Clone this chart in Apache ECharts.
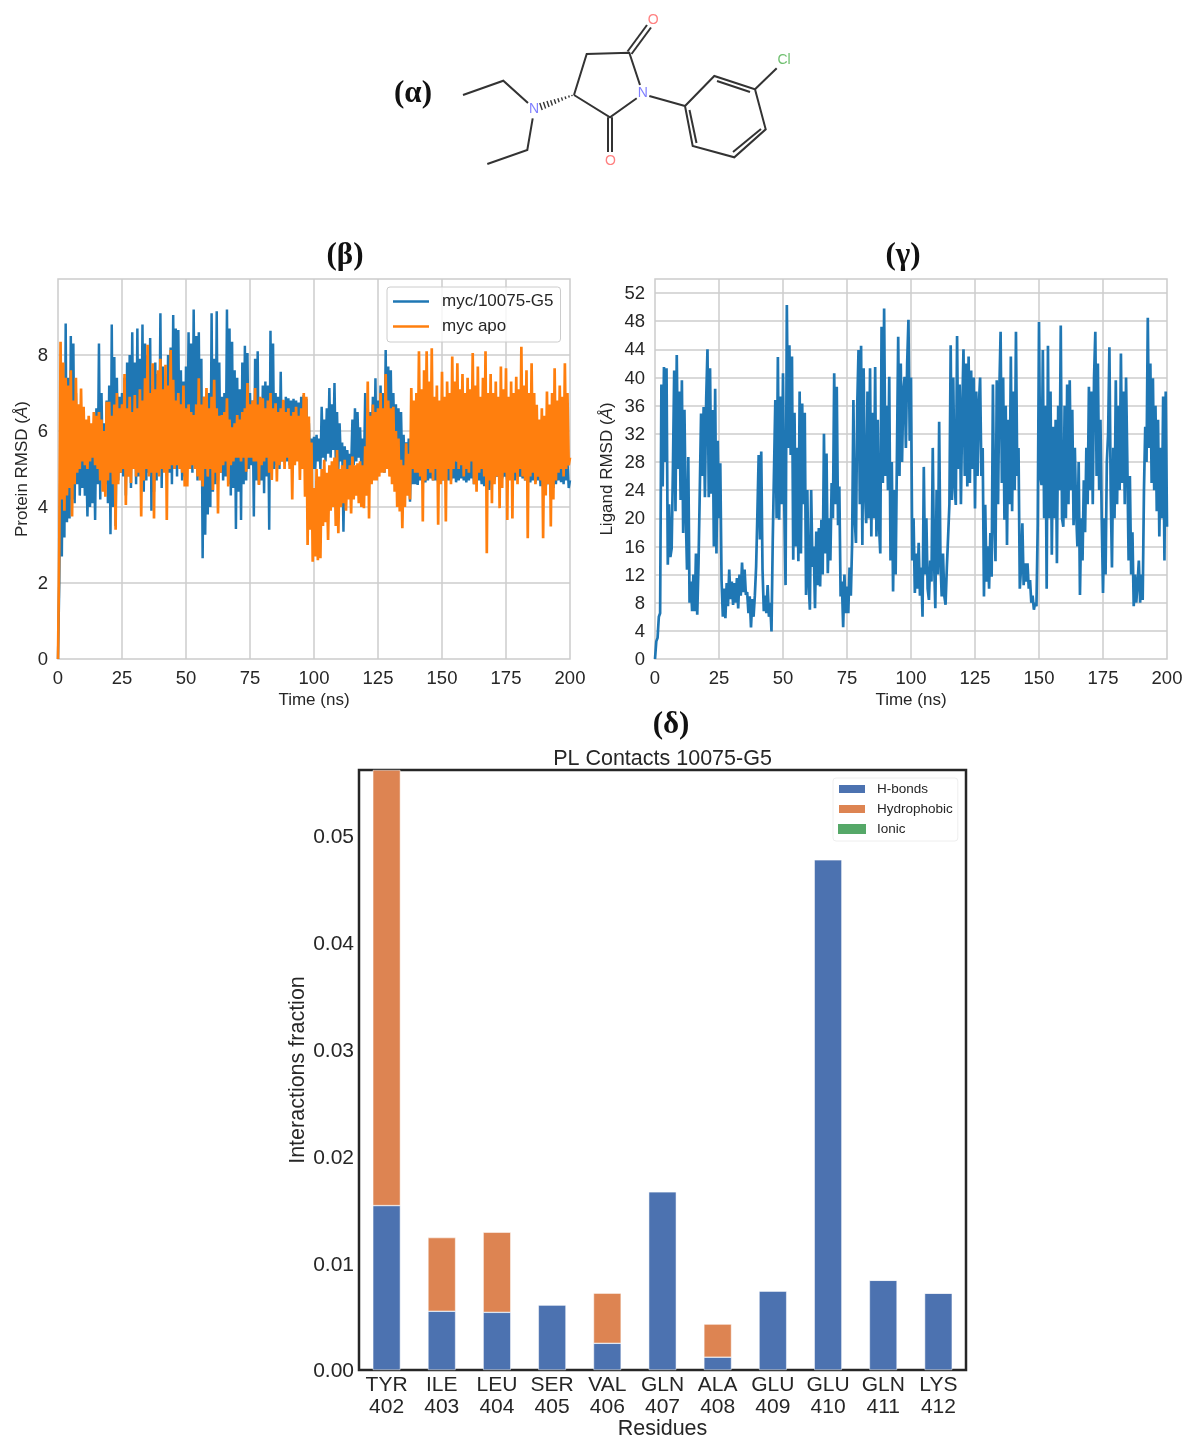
<!DOCTYPE html>
<html><head><meta charset="utf-8">
<style>html,body{margin:0;padding:0;background:#fff}#c{width:1186px;height:1438px}</style>
<script src="https://cdn.jsdelivr.net/npm/echarts@6/dist/echarts.min.js"></script>
</head><body><div id="c"></div>
<script>
const timeStepNs = 0.5;
const timeTicks = {min:0, max:200, interval:25};

const proteinLigand = [
0,2.0,5.6,2.7,7.2,3.2,8.83,3.6,7.4,3.7,
8.5,4.2,8.3,4.1,7.0,4.6,6.4,4.3,5.6,4.5,
5.9,4.3,5.4,3.75,5.5,4.0,5.7,4.1,5.9,3.66,
6.6,4.6,8.3,4.2,7.0,4.9,6.2,4.6,6.8,4.1,
7.2,3.28,8.8,4.0,7.95,3.5,7.4,4.7,6.9,4.9,
7.0,4.8,7.4,4.3,7.8,4.9,8.0,4.5,8.6,5.0,
7.8,4.6,8.7,4.8,7.9,5.1,8.8,4.4,8.3,4.7,
8.0,4.9,8.45,3.9,7.2,4.4,7.8,4.7,7.5,5.0,
9.1,4.5,7.7,5.0,7.3,4.8,8.0,4.9,8.2,4.6,
9.05,5.0,8.7,4.8,8.66,5.1,7.6,4.7,7.3,4.8,
7.7,5.2,8.6,5.0,8.3,4.9,9.2,5.2,8.5,4.7,
8.6,4.8,7.9,2.65,6.9,3.27,6.6,3.8,7.0,4.0,
9.1,4.4,7.9,4.6,9.15,4.7,7.8,4.9,6.9,4.7,
7.0,4.8,9.2,4.6,8.7,4.3,8.35,4.5,7.6,3.42,
7.4,4.4,7.1,3.66,7.8,4.6,8.24,4.7,8.05,5.0,
7.0,5.1,6.8,3.75,7.9,4.7,8.1,4.6,6.8,4.7,
7.2,4.36,7.3,4.8,7.2,3.4,8.64,4.9,8.3,5.0,
7.0,5.1,6.9,5.0,7.56,5.2,6.8,5.3,6.9,5.2,
6.86,5.1,6.8,5.3,6.85,5.2,6.8,5.4,6.75,5.3,
6.9,5.2,6.95,5.3,6.85,4.8,6.2,4.9,5.8,5.0,
5.85,5.0,5.9,5.2,5.8,5.0,6.64,5.3,6.3,5.2,
6.6,5.4,7.13,5.3,6.7,5.5,7.26,5.2,6.5,5.0,
6.2,5.2,5.7,3.35,5.6,4.8,5.5,4.9,5.4,5.0,
6.3,5.1,6.6,5.2,6.5,5.3,6.1,5.0,5.8,4.9,
7.0,5.0,6.6,5.1,6.5,5.0,6.9,5.0,7.39,4.8,
6.8,5.0,7.2,5.2,7.0,4.9,8.13,5.1,7.7,5.0,
7.6,5.2,7.0,5.3,6.7,5.1,6.6,5.2,6.5,4.9,
5.9,4.7,5.7,4.5,5.8,4.14,5.6,4.6,5.5,4.6,
5.3,4.58,5.2,4.7,5.0,4.6,5.1,4.65,5.2,4.7,
5.1,4.75,5.15,4.7,5.2,4.7,5.1,4.65,5.2,4.75,
5.0,4.7,5.0,4.75,5.1,4.7,5.05,4.7,5.2,4.75,
5.3,4.65,5.2,4.7,5.1,4.75,5.15,4.7,5.0,4.65,
5.2,4.7,5.6,4.75,5.3,4.6,5.1,4.7,5.0,4.7,
5.1,4.6,5.0,4.55,5.2,4.7,5.1,4.45,5.2,4.6,
5.25,4.7,5.0,4.8,5.1,4.7,5.0,4.75,5.1,4.8,
5.0,4.7,5.1,4.75,5.05,4.8,5.2,4.7,5.1,4.8,
5.15,4.8,5.3,4.75,5.2,4.7,5.35,4.7,5.1,4.65,
5.2,4.7,5.25,4.65,5.1,4.7,5.2,4.55,5.0,4.6,
5.1,4.5,5.05,4.6,5.0,4.28,5.1,4.5,5.2,4.6,
5.3,4.7,5.5,4.65,5.25,4.6,5.4,4.7,5.2,4.5,
4.7];

const proteinApo = [
0,3.0,8.35,4.2,7.8,3.9,7.4,4.3,7.2,4.5,
7.6,3.75,6.8,4.6,7.4,4.9,6.7,5.0,7.12,5.2,
6.64,5.1,6.3,5.0,6.4,5.2,6.2,5.3,6.5,5.1,
6.4,5.0,6.5,4.7,6.3,4.4,6.0,4.27,6.77,4.7,
6.77,4.9,6.4,4.6,6.7,3.4,7.0,4.6,6.6,4.9,
6.7,5.0,7.5,4.05,6.6,4.8,6.9,4.63,6.5,5.0,
6.95,4.8,6.6,4.9,7.1,3.75,6.8,4.7,7.39,5.0,
8.27,4.8,7.0,4.9,7.78,3.7,7.1,4.9,7.6,4.8,
7.9,5.0,7.1,4.9,7.74,3.66,7.2,5.0,8.13,5.1,
7.35,5.0,6.8,5.1,7.0,5.0,6.7,4.9,7.2,4.54,
6.6,4.54,6.7,5.0,6.5,5.1,6.42,5.0,6.7,4.8,
7.39,4.7,6.7,4.54,6.9,5.0,7.13,4.8,6.6,5.0,
6.9,4.45,7.35,4.9,6.6,3.83,6.4,4.9,6.42,5.1,
6.5,5.2,6.86,4.54,6.3,5.1,6.1,5.2,6.2,5.3,
6.42,5.3,6.3,5.2,6.5,5.3,6.6,4.93,7.26,5.3,
6.7,5.3,6.8,5.2,7.13,5.2,6.7,4.58,6.9,5.1,
6.86,5.2,6.6,5.3,6.8,4.9,7.0,4.71,6.6,5.2,
6.73,4.67,6.5,5.1,6.6,5.2,6.82,5.0,6.5,5.3,
6.6,5.0,6.4,4.2,6.5,5.1,6.64,5.2,6.4,4.71,
6.6,5.0,7.0,4.27,6.9,3.0,6.38,3.4,5.7,2.56,
4.5,2.7,5.0,2.6,4.8,2.65,5.0,3.5,5.24,3.6,
4.9,3.13,5.1,3.9,5.2,4.0,5.3,3.5,5.5,3.31,
5.0,4.0,5.1,4.1,5.24,3.9,5.0,4.2,5.1,3.83,
5.33,4.2,5.1,4.3,5.15,4.1,5.2,4.0,5.1,3.97,
5.6,4.3,7.3,3.7,6.4,4.6,6.7,4.7,6.5,4.7,
6.6,4.8,7.0,4.9,6.6,4.9,7.5,5.0,6.8,4.8,
6.6,4.6,6.64,4.4,6.0,4.0,5.8,3.88,5.24,3.44,
5.1,4.0,5.68,4.3,5.4,4.2,7.13,5.0,6.8,4.9,
7.0,4.9,8.1,4.8,7.1,3.62,7.6,4.7,8.1,5.0,
7.3,4.9,8.18,4.7,6.9,5.0,7.2,3.53,6.8,4.6,
7.56,4.7,6.9,3.62,7.3,5.0,7.0,4.6,7.96,5.0,
7.3,5.2,7.78,5.0,7.1,5.1,7.5,4.8,7.0,5.0,
7.4,4.9,7.1,5.2,8.05,4.6,7.2,4.4,7.7,4.9,
6.9,5.0,7.4,4.8,8.1,2.78,7.0,4.7,7.5,4.1,
7.0,4.6,7.3,4.8,6.9,3.97,7.7,4.5,7.1,4.9,
7.65,3.66,6.9,4.7,7.3,3.7,7.0,4.9,7.43,4.6,
7.1,5.0,8.22,4.8,7.2,4.7,7.6,3.18,7.0,4.8,
7.78,4.9,7.0,4.6,6.69,4.8,6.3,4.7,6.6,3.18,
6.4,4.3,7.04,4.6,6.7,3.49,7.0,4.2,7.65,4.7,
6.8,4.9,7.2,5.0,6.9,4.8,7.78,5.0,7.0,5.1,
5.3];

const ligandRmsd = [
0,2.5,3,6,6.5,39,24.5,41.5,28,41.3,
13.4,22,14.5,15.7,27,41,21,43.2,27,38,
22.6,39.6,17.9,35.4,21,12.7,28.7,8,11,6.8,
12,6.8,15,6.3,13.6,24,34.9,26,35.8,23,
37,44,23,41.3,23.5,35.4,16,38.4,15,31,
20,27.8,11.2,6,10,5.8,10.8,7.5,12.7,8.5,
11,7.7,10.8,8,11.5,7.2,12,9,13.7,9.5,
12.7,9.1,9.5,6.5,8.9,4.5,8.5,6,9,13.1,
20.7,29,17,29.5,12.7,6.8,9,6.5,10.5,6,
8,3.9,17,27,36.8,20,42.9,19.8,37.3,22,
40.6,22,10.5,50.3,30,44.6,29,43,14.1,35,
16,30,13.9,38,15,36.3,22,35,9.1,24,
11,7,24,13.1,16,7.2,18.1,10.5,18.6,10.3,
19.8,12,32,15,29.2,12.2,20,14,25,20,
40.6,22,38.7,19,24.5,8.9,11,4.5,12,6.5,
10.3,6.5,13,9,16.5,36.8,20,16.5,36,43.9,
22,44.5,16.2,41.3,24,19.3,38,20,41.3,17.4,
35,20,41.5,17.4,34,19,15,47.2,25,49.8,
26,36,24,40.1,14,28,9.6,24,12,28.7,
45.8,26,42,28,38,40.1,30,42,48.2,31,
40,14,20,9.4,15,10,16.5,9,13,6,
27.3,12,20,10,8.4,14,11,30,14,7.2,
24,12,33.7,14,8.9,15,9,7.7,13,17.4,
22,44.6,22.6,40,25,21.9,45.9,27,39,22,
35,44,26,42,24.5,43,25,41,27,40,
21.4,38,26,36,40,26,30,8.9,21.9,11,
16,10,17.9,11.7,39,20,13.9,39.6,22,38,
46.5,25,40,19.8,36,16.2,34,22,43,21,
38,24,46.5,26,30,10,13,19.3,10.5,13.6,
11,13.6,10,11.2,8,9,7,8,7.5,19,
47.9,26,24.7,43.9,20,36,10,44.5,20,38,
14.8,33,20,34,13.6,36,24,47.4,20,18.8,
36,20,39,22,39.6,24,35.4,19,30,21,
16,28,9.1,20,14,25.4,18,30,22,38.7,
24,38,22,40,46.5,26,42,24,34,20,
9.4,20,12,28,32,44.3,24,13,30,20,
39.6,22,36,24,43.4,25,38,22,40,28,
14,26,12,18,7.5,12,8,10.8,14,8,
12,8.4,24,33,28,48.5,30,42,25,39.9,
24,36,21,34,17.4,30,20,37.3,14,38,
18.8];

const residues = ['TYR\n402','ILE\n403','LEU\n404','SER\n405','VAL\n406','GLN\n407','ALA\n408','GLU\n409','GLU\n410','GLN\n411','LYS\n412'];
const hBonds = [0.0154,0.0055,0.0054,0.0061,0.0025,0.0167,0.0012,0.0074,0.0478,0.0084,0.0072];
const hydrophobic = [0.0408,0.0069,0.0075,0,0.0047,0,0.0031,0,0,0,0];
const ionic = [0,0,0,0,0,0,0,0,0,0,0];

const FONT = '"Liberation Sans", Arial, sans-serif';
const SERIF = '"Liberation Serif", "Times New Roman", serif';
const INK = '#262626';
const GRID = '#cccccc';
const toPairs = a => a.map((v,i)=>[i*timeStepNs, v]);

const panelLabel = (text,x,y)=>({text,left:x,top:y,padding:0,textAlign:'center',textVerticalAlign:'middle',
  textStyle:{fontFamily:SERIF,fontWeight:'bold',fontSize:31,color:'#111'}});

function timeAxis(gridIndex){
  return {type:'value',gridIndex,min:timeTicks.min,max:timeTicks.max,interval:timeTicks.interval,
    name:'Time (ns)',nameLocation:'middle',nameGap:33,nameMoveOverlap:false,
    nameTextStyle:{fontSize:17,color:INK,fontFamily:FONT},
    axisLine:{show:false},axisTick:{show:false},
    axisLabel:{fontSize:18.5,color:INK,margin:10,fontFamily:FONT,hideOverlap:false},
    splitLine:{show:true,showMinLine:false,showMaxLine:false,lineStyle:{color:GRID,width:1.5}}};
}
function rmsdAxis(gridIndex,label,max,interval,gap){
  return {type:'value',gridIndex,min:0,max,interval,
    name:'{a|'+label+' RMSD (}{b|Å}{a|)}',nameLocation:'middle',nameGap:gap,nameMoveOverlap:false,
    nameTextStyle:{rich:{a:{fontSize:17,color:INK,fontFamily:FONT},b:{fontSize:17,color:INK,fontFamily:FONT,fontStyle:'italic'}}},
    axisLine:{show:false},axisTick:{show:false},
    axisLabel:{fontSize:18.5,color:INK,margin:10,fontFamily:FONT,showMaxLabel:false,hideOverlap:false,
      formatter:v=>'{t|'+v+'}',rich:{t:{fontSize:18.5,color:INK,fontFamily:FONT,padding:[2,0,0,0]}}},
    splitLine:{show:true,showMinLine:false,showMaxLine:false,lineStyle:{color:GRID,width:1.5}}};
}
const lineSeries = (name,data,color,xi,width)=>({type:'line',name,data:toPairs(data),xAxisIndex:xi,yAxisIndex:xi,
  showSymbol:false,symbol:'none',sampling:false,smooth:false,lineStyle:{color,width},itemStyle:{color},silent:true,clip:true});
const barSeries = (name,data,color)=>({type:'bar',name,data,stack:'contacts',xAxisIndex:2,yAxisIndex:2,barWidth:'50%',clip:true,
  itemStyle:{color,borderColor:'#ffffff',borderWidth:name==='Ionic'?0:0.5},silent:true});

// skeletal formula of the ligand, panel (α)
const bondColor = '#333333';
const bonds = [
 [[463,95],[503.3,80.7],[528,103]],
 [[532.7,118.3],[527.3,150],[487.3,164]],
 [[574,95],[586.7,54],[629.3,52.7],[640,85]],
 [[636.7,98.3],[610,117.3],[574,95]],
 [[627.5,51.5],[647,25]],[[631.5,54],[651,27.5]],
 [[608,117.3],[608,152]],[[612,117.3],[612,152]],
 [[649.3,96],[685,106]],
 [[685,106],[714.3,76],[755,89.3],[765.7,129.3],[734.3,157.3],[692.7,146],[685,106]],
 [[717,81],[750,92]],[[761,129],[733,152]],[[689.5,110],[696.5,143]],
 [[755,89.3],[776.7,68.3]]
];
const atoms = [
 ['N',534,110,'#7f7fff'],['N',642.7,94,'#7f7fff'],
 ['O',652.7,20.5,'#ff8080'],['O',610,162,'#ff8080'],['Cl',785,61,'#6fbf6f']
];
const hashes = [[541,106.5],[544.5,105.3],[548,104],[551.5,102.8],[555,101.5],[558.5,100.2],[562,99],[565.5,97.8],[569,96.5],[572,95.5]];
const molGraphic = [
 ...bonds.map(p=>({type:'polyline',shape:{points:p},style:{stroke:bondColor,lineWidth:2,fill:null},silent:true})),
 ...hashes.map((h,i)=>{const d=3.6-i*0.33;return {type:'line',shape:{x1:h[0]-d*0.34,y1:h[1]-d,x2:h[0]+d*0.34,y2:h[1]+d},style:{stroke:bondColor,lineWidth:1.4},silent:true};}),
 ...atoms.map(a=>({type:'text',left:a[1]-(a[0]==='Cl'?7.5:5),top:a[2]-7.5,style:{text:a[0],fontSize:14,fontFamily:FONT,fill:a[3]},silent:true}))
];

const option = {
  animation:false,backgroundColor:'#ffffff',textStyle:{fontFamily:FONT,color:INK},
  title:[
    panelLabel('(α)',413,94),panelLabel('(β)',345,256),panelLabel('(γ)',903,256),panelLabel('(δ)',671,725),
    {text:'PL Contacts 10075-G5',left:662.5,top:759,padding:0,textAlign:'center',textVerticalAlign:'middle',
     textStyle:{fontFamily:FONT,fontWeight:'normal',fontSize:21.5,color:INK}}
  ],
  grid:[
    {left:58,top:279,width:512,height:380,show:true,borderColor:GRID,borderWidth:1.5,backgroundColor:'transparent',outerBoundsMode:'none'},
    {left:655,top:279,width:512,height:380,show:true,borderColor:GRID,borderWidth:1.5,backgroundColor:'transparent',outerBoundsMode:'none'},
    {left:359,top:770,width:607,height:600,show:true,borderColor:INK,borderWidth:2.5,backgroundColor:'transparent',outerBoundsMode:'none'}
  ],
  xAxis:[timeAxis(0),timeAxis(1),
    {type:'category',gridIndex:2,data:residues,name:'Residues',nameLocation:'middle',nameGap:48,nameMoveOverlap:false,
     nameTextStyle:{fontSize:21.5,color:INK,fontFamily:FONT},
     axisLine:{show:false},axisTick:{show:false},
     axisLabel:{fontSize:21,lineHeight:22,color:INK,margin:4,interval:0,fontFamily:FONT},splitLine:{show:false}}],
  yAxis:[rmsdAxis(0,'Protein',10,2,27),rmsdAxis(1,'Ligand',54,4,39),
    {type:'value',gridIndex:2,min:0,max:0.0562,interval:0.01,name:'Interactions fraction',nameLocation:'middle',nameGap:50,nameMoveOverlap:false,
     nameTextStyle:{fontSize:21.5,color:INK,fontFamily:FONT},
     axisLine:{show:false},axisTick:{show:false},
     axisLabel:{fontSize:21,color:INK,margin:5,showMaxLabel:false,hideOverlap:false,fontFamily:FONT,
       formatter:v=>'{t|'+v.toFixed(2)+'}',rich:{t:{fontSize:21,color:INK,fontFamily:FONT,padding:[3,0,0,0]}}},splitLine:{show:false}}],
  legend:[
    {data:['myc/10075-G5','myc apo'],orient:'vertical',left:387,top:287,padding:[5,7,6,6],itemGap:6,itemWidth:36,itemHeight:2.5,icon:'rect',
     backgroundColor:'rgba(255,255,255,0.8)',borderColor:'#cccccc',borderWidth:1,borderRadius:3,selectedMode:false,
     textStyle:{fontSize:17,lineHeight:19,color:INK,fontFamily:FONT,padding:[0,0,0,8]}},
    {data:['H-bonds','Hydrophobic','Ionic'],orient:'vertical',left:833,top:778,padding:[4,5,5,4],itemGap:6,itemWidth:28,itemHeight:10,
     backgroundColor:'rgba(255,255,255,0.8)',borderColor:'#eeeeee',borderWidth:1,borderRadius:3,selectedMode:false,icon:'rect',
     textStyle:{fontSize:13.5,color:INK,fontFamily:FONT,padding:[0,0,0,6]}}
  ],
  series:[
    lineSeries('myc/10075-G5',proteinLigand,'#1f77b4',0,2.5),
    lineSeries('myc apo',proteinApo,'#ff7f0e',0,2.7),
    lineSeries('Ligand',ligandRmsd,'#1f77b4',1,2.7),
    barSeries('H-bonds',hBonds,'#4c72b0'),
    barSeries('Hydrophobic',hydrophobic,'#dd8452'),
    barSeries('Ionic',ionic,'#55a868')
  ],
  graphic:molGraphic
};
const chart = echarts.init(document.getElementById('c'),null,{renderer:'canvas'});
chart.setOption(option);
</script></body></html>
